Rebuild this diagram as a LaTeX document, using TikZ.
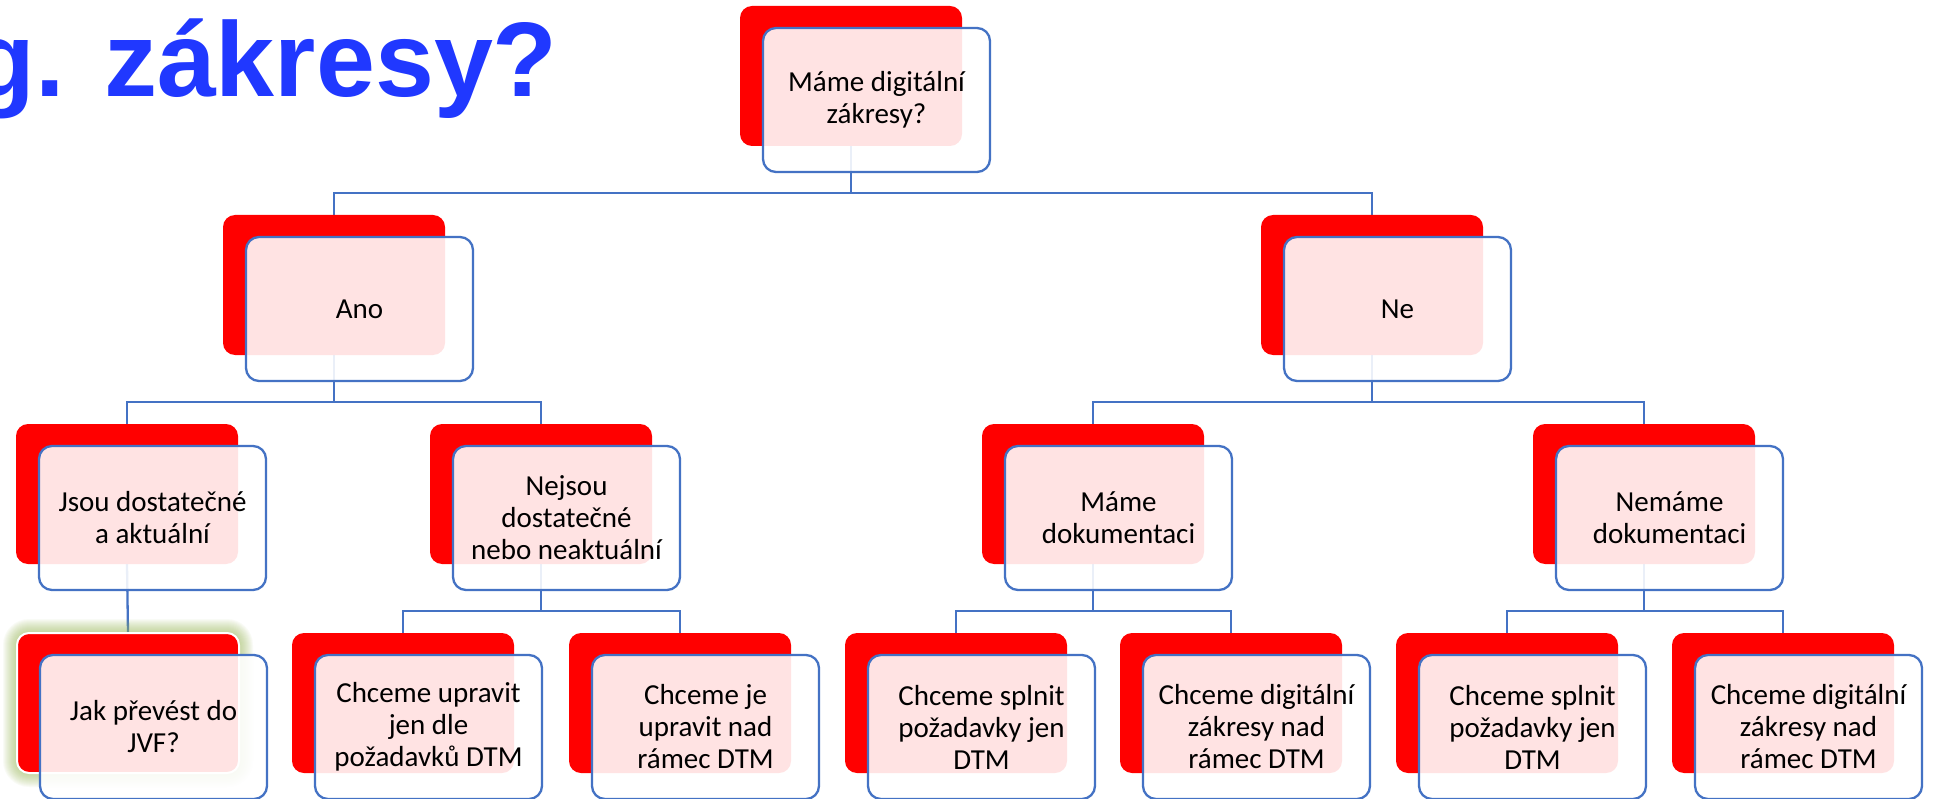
\documentclass[tikz,border=0pt]{standalone}
\usepackage{fontspec}
\setmainfont{Carlito}
\newfontfamily\titlefont{Liberation Sans}
\definecolor{redc}{RGB}{255,0,0}
\definecolor{bluec}{RGB}{68,114,196}
\definecolor{titleblue}{RGB}{32,56,255}
\definecolor{glowc}{RGB}{155,187,89}
\pgfdeclarelayer{bg}
\pgfsetlayers{bg,main}
\newcommand\smartbox[4]{%
  \node[redbox, anchor=north west] (#1r) at (#2,#3) {};
  \node[whitebox, anchor=north west] (#1w) at (#2+23,#3+22) {};
  \node[lbl] (#1t) at (#1w.center) {#4};}
\begin{document}
\begin{tikzpicture}[x=1pt,y=-1pt,
  redbox/.style={fill=redc, rounded corners=12pt, minimum width=222pt, minimum height=140pt, inner sep=0pt, outer sep=0pt},
  whitebox/.style={draw=bluec, line width=2.3pt, fill=white, fill opacity=0.89, rounded corners=13pt, minimum width=227pt, minimum height=144pt, inner sep=0pt, outer sep=0pt},
  conn/.style={draw=bluec, line width=2.3pt},
  lbl/.style={font=\fontsize{29}{32}\selectfont, align=center, text=black, inner sep=0pt},
  title/.style={font=\titlefont\bfseries\fontsize{106}{110}\selectfont, text=titleblue, inner sep=0pt}]
\useasboundingbox (0,0) rectangle (1934,799);
\begin{pgfonlayer}{bg}
  \fill[white] (0,0) rectangle (1934,799);
\end{pgfonlayer}

% title fragment
\node[title, anchor=base east] (ttl) at (558,97) {g. zákresy?};

% glow for the highlighted node
\foreach \i in {1,...,14} {
  \fill[glowc, opacity=0.05, rounded corners={12pt+\i pt}] (17-\i,633-\i) rectangle (239+\i,773+\i);
}

% level 1
\smartbox{top}{740}{6}{Máme digitální\\zákresy?}
% level 2
\smartbox{ano}{223}{215}{Ano}
\smartbox{ne}{1261}{215}{Ne}
% level 3
\smartbox{jsou}{16}{424}{Jsou dostatečné\\a aktuální}
\smartbox{nej}{430}{424}{Nejsou\\dostatečné\\nebo neaktuální}
\smartbox{mame}{982}{424}{Máme\\dokumentaci}
\smartbox{nem}{1533}{424}{Nemáme\\dokumentaci}
% level 4
\node[redbox, draw=white, line width=2pt, anchor=north west] (jakr) at (17,633) {};
\node[whitebox, anchor=north west] (jakw) at (17+23,633+22) {};
\node[lbl] (jakt) at (jakw.center) {Jak převést do\\JVF?};
\smartbox{cu}{292}{633}{Chceme upravit\\jen dle\\požadavků DTM}
\smartbox{cj}{569}{633}{Chceme je\\upravit nad\\rámec DTM}
\smartbox{csa}{845}{633}{Chceme splnit\\požadavky jen\\DTM}
\smartbox{cda}{1120}{633}{Chceme digitální\\zákresy nad\\rámec DTM}
\smartbox{csb}{1396}{633}{Chceme splnit\\požadavky jen\\DTM}
\smartbox{cdb}{1672}{633}{Chceme digitální\\zákresy nad\\rámec DTM}

% connectors (behind the boxes)
\coordinate (lv1) at (0,193);
\coordinate (lv2) at (0,402);
\coordinate (lv3) at (0,611);
\begin{pgfonlayer}{bg}
  \draw[conn] (topr.south) -- (topr.south |- lv1) -| (anor.north);
  \draw[conn] (topr.south |- lv1) -| (ner.north);
  \draw[conn] (anor.south) -- (anor.south |- lv2) -| (jsour.north);
  \draw[conn] (anor.south |- lv2) -| (nejr.north);
  \draw[conn] (ner.south) -- (ner.south |- lv2) -| (mamer.north);
  \draw[conn] (ner.south |- lv2) -| (nemr.north);
  \draw[conn] (jsour.south) -- (jakr.north);
  \draw[conn] (nejr.south) -- (nejr.south |- lv3) -| (cur.north);
  \draw[conn] (nejr.south |- lv3) -| (cjr.north);
  \draw[conn] (mamer.south) -- (mamer.south |- lv3) -| (csar.north);
  \draw[conn] (mamer.south |- lv3) -| (cdar.north);
  \draw[conn] (nemr.south) -- (nemr.south |- lv3) -| (csbr.north);
  \draw[conn] (nemr.south |- lv3) -| (cdbr.north);
\end{pgfonlayer}
\end{tikzpicture}
\end{document}
